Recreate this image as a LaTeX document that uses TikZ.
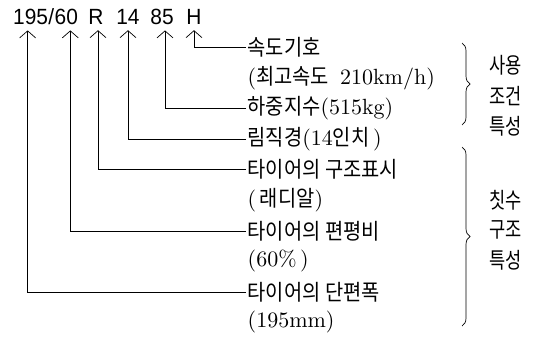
\documentclass[tikz,border=0pt]{standalone}
\usepackage{fontspec}
\setmainfont{lmroman10-regular.otf}
\newfontfamily\kr[FakeStretch=0.9]{Noto Sans CJK KR}
\newfontfamily\krn[FakeStretch=0.8]{Noto Sans CJK KR}
\newfontfamily\topf[FakeStretch=0.95]{Liberation Sans}
\usetikzlibrary{arrows.meta,decorations.pathreplacing}
\begin{document}
\begin{tikzpicture}[x=1pt,y=-1pt,
  tok/.style={font=\topf\fontsize{22}{22}\selectfont, inner sep=0pt},
  lbl/.style={font=\fontsize{22}{24}\selectfont, inner sep=0pt, inner xsep=1.5pt, anchor=west},
  grp/.style={font=\krn\fontsize{22}{24}\selectfont, inner sep=0pt, anchor=west},
  conn/.style={line width=0.7pt, -{Straight Barb[length=7pt,width=16pt,line width=0.7pt]}, shorten >=5pt},
  brc/.style={line width=0.7pt, decorate, decoration={brace, amplitude=8pt}}]
\useasboundingbox (0,0) rectangle (545,353);
% top code
\node[tok, anchor=base west] (t195) at (13,25) {195};
\node[tok, anchor=base west] (tsl) at (t195.base east) {/};
\node[tok, anchor=base west] (t60) at (tsl.base east) {60};
\node[tok, anchor=base] (tR) at (96,25) {R};
\node[tok, anchor=base] (t14) at (128,25) {14};
\node[tok, anchor=base] (t85) at (162,25) {85};
\node[tok, anchor=base] (tH) at (194,25) {H};
% labels
\node[lbl] (l0) at (246,47) {{\kr 속도기호}};
\node[lbl] (l1) at (246,78) {({\kr 최고속도}\hspace{0.5em}210km/h)};
\node[lbl] (l2) at (246,108) {{\kr 하중지수}(515kg)};
\node[lbl] (l3) at (246,139) {{\kr 림직경}(14{\kr 인치}\,)};
\node[lbl] (l4) at (246,169) {{\kr 타이어의 구조표시}};
\node[lbl] (l5) at (246,200) {(\,{\kr 래디알})};
\node[lbl] (l6) at (246,231) {{\kr 타이어의 편평비}};
\node[lbl] (l7) at (246,261) {(60\%\,)};
\node[lbl] (l8) at (246,292) {{\kr 타이어의 단편폭}};
\node[lbl] (l9) at (246,322) {(195mm)};
% connectors
\draw[conn] (l0.west) -| (tH.south);
\draw[conn] (l2.west) -| ([xshift=3pt]t85.south);
\draw[conn] (l3.west) -| (t14.south);
\draw[conn] (l4.west) -| ([xshift=2pt]tR.south);
\draw[conn] (l6.west) -| ([xshift=4pt]t60.south);
\draw[conn] (l8.west) -| ([xshift=-3pt]t195.south);
% braces
\coordinate (b1a) at (462,43);
\coordinate (b1b) at (462,125);
\coordinate (b2a) at (462,147);
\coordinate (b2b) at (462,326);
\draw[brc] (b1a) -- (b1b);
\draw[brc] (b2a) -- (b2b);
% group labels
\node[grp] (g1) at (489,65) {사용};
\node[grp] (g2) at (489,96) {조건};
\node[grp] (g3) at (489,126) {특성};
\node[grp] (g4) at (489,200) {칫수};
\node[grp] (g5) at (489,230) {구조};
\node[grp] (g6) at (489,260) {특성};
\end{tikzpicture}
\end{document}
